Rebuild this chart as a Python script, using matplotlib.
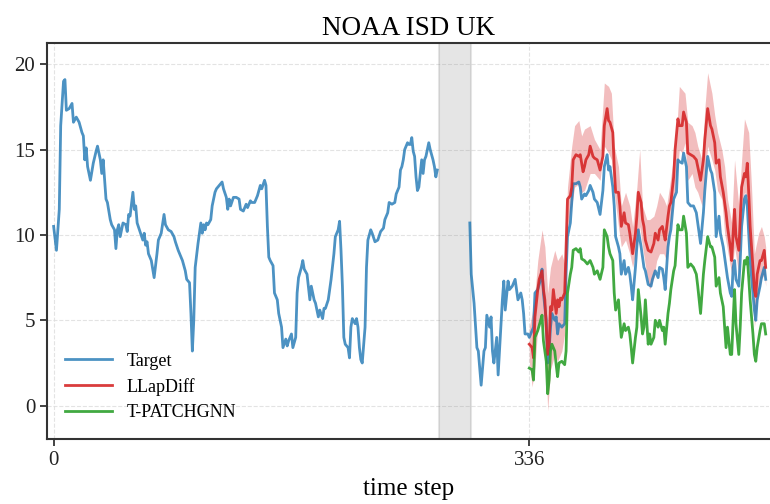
"""NOAA ISD UK forecast plot: target series, LLapDiff band and T-PATCHGNN."""

import matplotlib
matplotlib.use("Agg")
import matplotlib.pyplot as plt

plt.rcParams["font.family"] = ["Liberation Serif", "DejaVu Serif"]

# history part of the target (before the gap)
hist_t = [0, 2, 4, 5, 7, 8, 9, 11, 13, 14, 16, 18, 20, 21, 22, 23, 24, 26, 28, 30,
          31, 33, 34, 35, 37, 38, 40, 41, 43, 44, 45, 46, 47, 49, 51, 52, 53, 54, 56, 57,
          58, 59, 61, 63, 64, 65, 66, 67, 69, 71, 73, 74, 76, 78, 79, 81, 83, 85, 86, 88,
          91, 93, 94, 96, 97, 98, 99, 100, 102, 104, 105, 106, 107, 108, 109, 111, 112, 114, 115, 117,
          119, 120, 122, 123, 124, 125, 127, 129, 131, 132, 134, 136, 137, 139, 140, 142, 144, 146, 147, 149,
          150, 151, 152, 153, 155, 156, 158, 159, 161, 162, 164, 165, 166, 168, 169, 171, 172, 173, 175, 176,
          177, 179, 181, 182, 184, 185, 187, 188, 190, 191, 192, 194, 196, 198, 199, 201, 202, 203, 204, 205,
          206, 208, 209, 210, 211, 213, 214, 215, 216, 217, 218, 220, 221, 222, 224, 225, 227, 229, 231, 233,
          234, 236, 237, 239, 241, 242, 244, 245, 246, 247, 248, 250, 251, 252, 253, 254, 255, 256, 257, 258,
          260, 261, 262, 263, 264, 265, 266, 268, 269, 270, 271]
hist_y = [10.5, 9.1, 11.5, 16.4, 19.0, 19.1, 17.3, 17.4, 17.7, 16.6, 16.9, 16.6, 16.0, 15.8, 14.4, 15.1, 14.0, 13.2, 14.2, 14.9,
          15.2, 14.4, 13.6, 14.4, 12.1, 11.9, 10.9, 10.6, 10.3, 9.2, 10.3, 10.6, 9.9, 10.7, 10.6, 10.2, 11.2, 11.1, 12.5, 11.5,
          11.7, 10.7, 10.2, 9.7, 10.1, 9.4, 9.6, 8.9, 8.5, 7.5, 8.9, 9.7, 10.1, 11.2, 10.6, 10.3, 10.2, 9.9, 9.6, 9.1,
          8.5, 7.9, 7.4, 7.2, 5.4, 3.2, 5.0, 8.1, 9.5, 10.7, 10.1, 10.6, 10.3, 10.7, 10.6, 10.9, 11.7, 12.5, 12.7, 12.9,
          13.1, 12.7, 12.2, 11.5, 12.1, 11.7, 12.2, 12.2, 12.1, 11.5, 11.4, 11.8, 11.6, 12.0, 11.9, 11.9, 12.3, 12.9, 12.7, 13.2,
          12.9, 10.5, 8.7, 8.5, 8.2, 6.6, 6.2, 5.4, 4.6, 3.4, 3.9, 3.5, 3.8, 4.2, 3.4, 4.0, 6.6, 7.5, 8.1, 8.5,
          8.0, 7.7, 6.2, 7.0, 6.2, 6.0, 5.2, 5.6, 5.1, 5.7, 5.7, 6.2, 7.4, 8.9, 9.9, 10.3, 10.8, 9.1, 7.0, 4.0,
          3.6, 3.4, 2.8, 4.6, 5.1, 4.8, 5.1, 4.6, 3.4, 2.7, 2.5, 4.6, 8.1, 9.7, 10.3, 10.1, 9.6, 9.7, 10.2, 10.4,
          10.9, 11.3, 11.9, 11.8, 11.9, 12.4, 12.8, 13.8, 14.0, 14.4, 15.0, 15.4, 15.3, 15.3, 15.7, 14.9, 14.6, 13.4, 12.6, 12.8,
          14.4, 13.6, 14.4, 14.6, 15.0, 15.4, 15.0, 14.4, 14.0, 13.4, 13.8]

# target after the gap (context + forecast horizon)
fut_t = [294, 295, 297, 299, 300, 302, 304, 305, 306, 308, 309, 310, 311, 313, 314, 316, 317, 318, 319, 321,
         322, 324, 326, 327, 328, 330, 331, 332, 333, 335, 336, 339, 340, 342, 344, 345, 346, 348, 349, 350,
         351, 352, 354, 355, 356, 357, 359, 361, 362, 363, 365, 366, 367, 369, 371, 372, 373, 375, 376, 378,
         379, 381, 382, 384, 386, 388, 389, 391, 392, 393, 395, 396, 397, 399, 400, 401, 403, 404, 406, 407,
         408, 409, 411, 412, 413, 415, 416, 417, 418, 420, 422, 423, 425, 427, 428, 430, 431, 432, 434, 435,
         436, 438, 440, 441, 442, 444, 445, 447, 448, 450, 452, 454, 455, 457, 459, 460, 462, 464, 465, 467,
         468, 470, 471, 473, 475, 476, 478, 479, 480, 481, 482, 484, 485, 486, 488, 489, 490, 491, 492, 494,
         495, 496, 497, 499, 500, 502, 503]
fut_y = [10.7, 7.7, 6.0, 3.4, 3.2, 1.2, 3.2, 3.4, 5.3, 4.6, 5.2, 3.2, 2.5, 4.0, 1.8, 4.8, 6.2, 7.3, 5.6, 7.3,
         6.8, 7.0, 7.4, 6.8, 6.2, 6.6, 6.2, 5.4, 4.2, 4.2, 4.0, 4.6, 6.6, 6.8, 7.4, 8.0, 6.6, 5.0, 2.5, 3.2,
         4.6, 5.4, 5.0, 5.2, 4.2, 4.8, 4.6, 4.8, 7.7, 9.9, 10.7, 11.9, 13.0, 13.0, 13.1, 12.8, 12.1, 12.4, 12.3, 12.6,
         12.9, 12.5, 12.1, 11.9, 11.2, 12.6, 14.0, 14.7, 13.8, 14.0, 12.8, 11.7, 9.9, 9.3, 8.9, 7.7, 8.5, 7.7, 8.1, 7.7,
         7.0, 6.2, 8.1, 9.3, 10.3, 9.3, 8.7, 8.1, 7.9, 7.1, 7.0, 7.4, 7.9, 7.5, 8.1, 8.0, 7.5, 6.8, 9.3, 9.9,
         10.3, 12.1, 12.5, 14.4, 14.3, 14.2, 14.8, 14.0, 11.9, 11.7, 11.7, 11.3, 10.7, 9.5, 11.3, 12.6, 14.6, 13.8, 13.6, 12.5,
         9.9, 11.1, 10.1, 9.3, 8.1, 7.5, 6.6, 6.4, 8.1, 8.5, 7.4, 7.0, 8.5, 10.5, 12.1, 12.3, 11.7, 10.1, 8.5, 6.6,
         5.6, 5.0, 6.2, 7.0, 7.5, 8.1, 7.4]

llap_t = [336, 338, 339, 340, 342, 343, 345, 346, 347, 349, 350, 351, 352, 353, 355, 356, 357, 358, 359, 361,
          362, 363, 365, 366, 367, 369, 371, 372, 374, 375, 376, 378, 379, 381, 382, 384, 386, 388, 389, 391,
          392, 393, 395, 396, 397, 399, 400, 401, 403, 404, 406, 407, 408, 409, 411, 412, 413, 415, 416, 417,
          418, 420, 422, 424, 425, 427, 428, 430, 431, 432, 434, 435, 436, 438, 439, 441, 442, 444, 445, 447,
          448, 450, 452, 454, 455, 457, 459, 460, 462, 464, 465, 467, 468, 470, 471, 473, 475, 476, 478, 479,
          480, 481, 482, 484, 485, 486, 488, 489, 490, 491, 492, 494, 495, 496, 497, 499, 500, 502, 503]
llap_y = [3.6, 3.4, 2.8, 5.2, 6.8, 7.4, 7.9, 6.8, 6.2, 3.0, 3.4, 5.8, 5.6, 6.8, 5.4, 6.2, 5.8, 6.3, 6.2, 6.6,
          9.3, 12.1, 12.3, 12.8, 14.4, 14.7, 14.6, 14.7, 13.7, 14.0, 14.4, 14.7, 15.2, 14.6, 14.5, 14.4, 13.8, 14.6, 16.4, 17.4,
          16.7, 16.6, 16.0, 14.0, 12.5, 12.5, 11.7, 10.5, 11.3, 10.7, 10.6, 10.1, 9.5, 8.9, 10.1, 11.1, 12.5, 11.9, 10.9, 10.5,
          9.7, 9.1, 9.0, 9.5, 10.1, 9.7, 10.3, 10.5, 10.1, 9.7, 11.1, 11.7, 11.9, 13.4, 15.0, 16.8, 16.4, 16.4, 17.2, 16.6,
          14.8, 14.7, 14.6, 14.4, 14.0, 13.2, 14.4, 15.6, 17.4, 16.4, 16.2, 15.4, 14.2, 14.4, 13.4, 12.5, 11.3, 10.5, 9.3, 8.5,
          10.1, 11.5, 9.9, 9.1, 10.9, 12.8, 13.6, 13.4, 14.2, 12.5, 10.5, 8.1, 6.8, 6.4, 7.7, 8.5, 8.5, 9.1, 8.1]

# LLapDiff uncertainty band
band_t = [336, 338, 340, 342, 345, 347, 349, 351, 354, 356, 359, 361, 363, 366, 368, 371, 373, 375, 379, 382,
          386, 389, 392, 394, 396, 399, 401, 404, 407, 409, 412, 414, 416, 419, 421, 424, 426, 428, 431, 433,
          435, 438, 440, 442, 444, 446, 448, 451, 453, 455, 458, 460, 462, 465, 467, 469, 472, 474, 476, 479,
          481, 484, 486, 488, 491, 493, 495, 498, 500, 502, 503]
band_lo = [2.6, 1.1, 2.3, 4.6, 5.4, 4.2, -0.3, 2.1, 3.0, 2.6, 3.2, 4.2, 10.5, 11.7, 12.8, 13.0, 12.5, 12.6, 13.6, 13.6,
           13.2, 15.2, 14.8, 14.4, 12.5, 10.5, 9.3, 9.7, 8.9, 8.1, 9.3, 10.5, 9.3, 7.7, 6.8, 7.5, 8.5, 8.9, 8.9, 8.5,
           10.1, 12.1, 13.2, 15.0, 14.8, 15.4, 13.2, 13.6, 12.8, 12.5, 11.7, 13.2, 15.2, 14.4, 13.8, 12.6, 12.1, 10.1, 9.1, 7.7,
           9.3, 7.7, 11.5, 12.5, 12.1, 9.3, 4.6, 6.6, 7.4, 7.7, 7.0]
band_hi = [4.6, 5.4, 6.6, 8.5, 10.3, 9.3, 6.6, 8.1, 9.1, 8.5, 8.9, 8.3, 12.8, 15.2, 16.4, 16.7, 15.8, 16.2, 16.4, 15.6,
           15.0, 18.9, 18.7, 18.3, 15.2, 14.0, 11.7, 12.5, 11.7, 10.5, 12.8, 15.0, 11.7, 10.9, 10.9, 11.1, 11.7, 12.5, 12.1, 11.7,
           12.8, 14.6, 16.0, 18.7, 18.5, 18.3, 16.6, 16.4, 16.0, 15.2, 14.4, 17.4, 19.5, 18.3, 17.0, 16.0, 15.0, 14.0, 12.1, 10.7,
           14.4, 11.7, 14.4, 16.8, 16.0, 12.8, 8.9, 10.1, 10.5, 9.9, 9.3]

tpatch_t = [336, 338, 339, 340, 342, 344, 345, 346, 348, 349, 350, 351, 352, 354, 355, 356, 357, 359, 361, 362,
            363, 365, 366, 367, 369, 371, 372, 373, 375, 377, 379, 381, 382, 384, 386, 388, 389, 391, 392, 393,
            395, 396, 397, 399, 400, 401, 403, 404, 406, 407, 408, 409, 411, 412, 413, 415, 416, 417, 418, 420,
            421, 422, 424, 425, 427, 428, 430, 431, 432, 434, 435, 436, 438, 439, 441, 442, 444, 445, 447, 448,
            450, 452, 454, 455, 457, 459, 460, 462, 464, 465, 467, 468, 470, 471, 473, 475, 476, 478, 479, 480,
            481, 482, 484, 485, 486, 488, 489, 490, 491, 492, 494, 495, 496, 497, 499, 500, 502, 503]
tpatch_y = [2.2, 2.1, 1.5, 4.0, 4.4, 5.0, 5.3, 3.8, 2.6, 0.7, 1.5, 3.2, 3.6, 3.2, 2.4, 1.7, 2.5, 2.6, 2.4, 3.2,
            6.6, 7.7, 8.1, 9.1, 9.2, 9.0, 9.2, 8.6, 8.5, 8.3, 8.5, 8.1, 7.7, 7.9, 7.4, 8.1, 10.3, 9.9, 9.3, 8.9,
            8.5, 6.6, 5.6, 6.2, 5.0, 4.0, 4.8, 4.4, 4.6, 4.2, 3.4, 2.5, 4.0, 4.6, 6.8, 5.2, 4.2, 4.6, 6.2, 3.6,
            4.2, 3.6, 4.0, 5.0, 4.6, 5.0, 4.4, 4.6, 3.6, 5.4, 6.0, 6.8, 7.9, 8.2, 10.6, 10.3, 10.3, 11.1, 10.1, 8.1,
            8.3, 8.1, 7.7, 7.0, 5.4, 7.7, 8.5, 9.9, 9.3, 9.3, 8.7, 7.0, 7.5, 6.6, 5.8, 3.4, 4.6, 3.0, 3.0, 5.0,
            6.8, 4.8, 3.0, 4.6, 6.6, 8.5, 8.3, 8.7, 7.5, 6.2, 4.2, 3.0, 2.6, 3.4, 4.4, 4.8, 4.8, 4.2]

gap_start, gap_end = 272, 294.5
x_ticks = [0, 336]
y_ticks = [0, 5, 10, 15, 20]

fig = plt.figure(figsize=(7.7, 5.04), dpi=100)
ax = fig.add_axes([0.061, 0.129, 0.938, 0.786])

ax.axvspan(gap_start, gap_end, color="gray", alpha=0.2, lw=1.5, zorder=1)
ax.fill_between(band_t, band_lo, band_hi, color="tab:red", alpha=0.3, lw=0, zorder=2)
ax.plot(hist_t, hist_y, color="tab:blue", alpha=0.8, lw=2, label="Target", zorder=3)
ax.plot(fut_t, fut_y, color="tab:blue", alpha=0.8, lw=2, zorder=3)
ax.plot(llap_t, llap_y, color="tab:red", alpha=0.9, lw=2, label="LLapDiff", zorder=4)
ax.plot(tpatch_t, tpatch_y, color="tab:green", alpha=0.9, lw=2, label="T-PATCHGNN", zorder=4)

ax.set_xlim(-4.7, 505.5)
ax.set_ylim(-1.95, 21.25)
ax.set_xticks(x_ticks)
ax.set_yticks(y_ticks)
ax.tick_params(labelsize=15, colors="#222222", length=5, width=1.2)
ax.grid(True, ls="--", lw=0.8, color="#dddddd", alpha=0.8)
ax.set_axisbelow(True)
for sp in ax.spines.values():
    sp.set_color("#333333")
    sp.set_linewidth(1.5)
ax.spines["right"].set_visible(False)

ax.set_title("NOAA ISD UK", fontsize=19.5)
ax.set_xlabel("time step", fontsize=18, labelpad=6)
ax.legend(loc="lower left", frameon=False, fontsize=13, handlelength=2.6,
          borderaxespad=0.6, labelspacing=0.45)

fig.savefig("out.png", dpi=100)
